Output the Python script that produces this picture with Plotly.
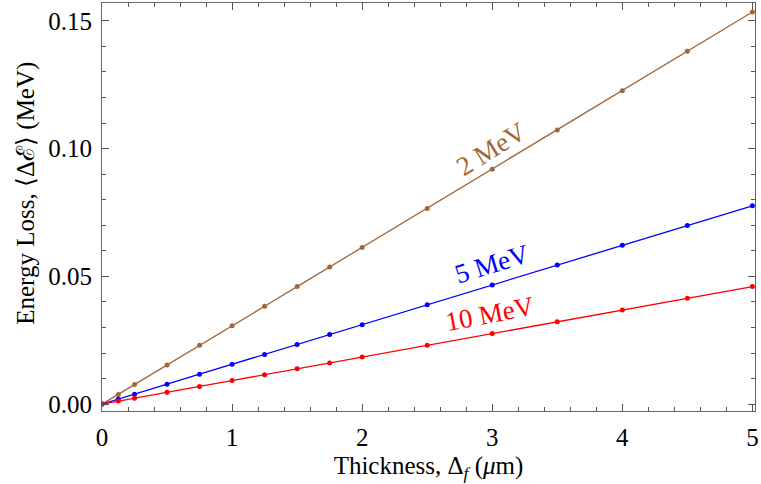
import plotly.graph_objects as go

# Foil thickness (micrometres) at which the mean energy loss was computed
thickness = [0, 0.125, 0.25, 0.5, 0.75, 1.0, 1.25, 1.5, 1.75, 2.0, 2.5, 3.0, 3.5, 4.0, 4.5, 5.0]

# Mean energy loss (MeV) for each beam energy
loss_2mev = [0.0, 0.0038, 0.0077, 0.0153, 0.0230, 0.0307, 0.0383, 0.0460, 0.0537, 0.0613,
             0.0766, 0.0919, 0.1073, 0.1227, 0.1381, 0.1535]
loss_5mev = [0.0, 0.0019, 0.0039, 0.0078, 0.0117, 0.0156, 0.0194, 0.0233, 0.0272, 0.0311,
             0.0389, 0.0466, 0.0544, 0.0622, 0.0699, 0.0776]
loss_10mev = [0.0, 0.0012, 0.0023, 0.0046, 0.0069, 0.0092, 0.0115, 0.0138, 0.0161, 0.0184,
              0.0230, 0.0276, 0.0322, 0.0368, 0.0414, 0.0460]

series = [
    ("2 MeV", loss_2mev, "#a0673a"),
    ("5 MeV", loss_5mev, "#0000ff"),
    ("10 MeV", loss_10mev, "#ff0000"),
]

# Curve labels: text, anchor x, anchor y, rotation, colour
curve_labels = [
    ("2 MeV", 2.99, 0.1000, -32, "#a0673a"),
    ("5 MeV", 3.0, 0.0548, -17, "#0000ff"),
    ("10 MeV", 2.98, 0.0352, -11, "#ff0000"),
]

FONT = "Liberation Serif"
TXT = 25
LABEL_TXT = 27

fig = go.Figure()
for name, vals, color in series:
    fig.add_trace(go.Scatter(
        x=thickness, y=vals, mode="lines+markers", name=name,
        line=dict(color=color, width=1.3),
        marker=dict(color=color, size=5),
        showlegend=False,
    ))

for text, xa, ya, ang, color in curve_labels:
    fig.add_annotation(x=xa, y=ya, text=text, showarrow=False, textangle=ang,
                       font=dict(family=FONT, size=LABEL_TXT, color=color))

# Vertical axis title, placed as a rotated paper-anchored label
fig.add_annotation(
    xref="paper", yref="paper", x=-0.1176, y=0.533, xanchor="center", yanchor="middle",
    text="Energy Loss, ⟨Δℰ⟩ (MeV)", textangle=-90, showarrow=False,
    font=dict(family=FONT, size=TXT, color="black"),
)

axis_common = dict(
    showgrid=False, zeroline=False, showline=True, linecolor="#666666", linewidth=1,
    mirror="ticks", ticks="inside", ticklen=7, tickwidth=1, tickcolor="#555555",
    tickfont=dict(family=FONT, size=TXT, color="black"),
)

fig.update_xaxes(
    range=[0, 5.02], tickvals=[0, 1, 2, 3, 4, 5],
    minor=dict(dtick=0.2, tick0=0, ticks="inside", ticklen=4, tickcolor="#555555"),
    ticklabelstandoff=4,
    title=dict(text="Thickness, Δ<sub><i>f</i></sub> (<i>μ</i>m)",
               font=dict(family=FONT, size=TXT, color="black"), standoff=6),
    **axis_common,
)
fig.update_yaxes(
    range=[-0.0027, 0.157], tickvals=[0, 0.05, 0.10, 0.15], tickformat=".2f",
    minor=dict(dtick=0.01, tick0=0, ticks="inside", ticklen=4, tickcolor="#555555"),
    ticklabelstandoff=4,
    **axis_common,
)

fig.update_layout(
    width=761, height=484,
    margin=dict(l=102, r=4, t=2, b=73),
    font=dict(family=FONT),
    paper_bgcolor="white", plot_bgcolor="white",
)

fig.write_html("out.html")
